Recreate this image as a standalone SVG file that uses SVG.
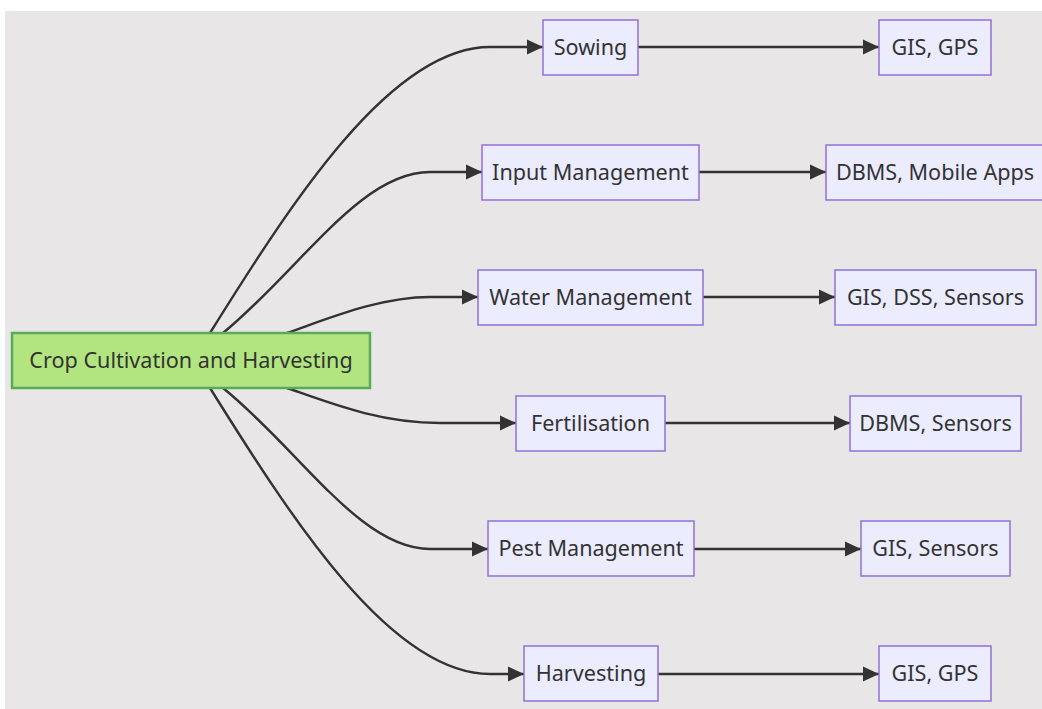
<svg xmlns="http://www.w3.org/2000/svg" width="1042" height="709" viewBox="0 0 1042 709">
  <defs>
    <marker id="arrow" viewBox="0 0 16 16" refX="16" refY="8" markerWidth="16" markerHeight="16" markerUnits="userSpaceOnUse" orient="auto">
      <path d="M0,0.5 L16,8 L0,15.5 z" fill="#333333"/>
    </marker>
    <style>
      .node rect { fill: #ececff; stroke: #9370db; stroke-width: 1.5; }
      .root rect { fill: #b2e57f; stroke: #5aaa57; stroke-width: 2.5; }
      .node text, .root text { font-family: "Trebuchet MS", "Noto Sans", "DejaVu Sans", sans-serif; font-size: 21.6px; fill: #333333; text-anchor: middle; dominant-baseline: central; }
      .edges path { fill: none; stroke: #333333; stroke-width: 2.4; marker-end: url(#arrow); }
    </style>
  </defs>

  <!-- canvas -->
  <rect x="0" y="0" width="1042" height="709" fill="#ffffff"/>
  <rect x="5" y="11" width="1037" height="698" fill="#e8e6e6"/>

  <!-- connectors -->
  <g class="edges">
    <path d="M210,333 C290,205 390,47 490,47 L543,47"/>
    <path d="M223,333 C300,270 360,172 430,172 L482,172"/>
    <path d="M287,333 C330,318 380,297 430,297 L478,297"/>
    <path d="M287,388 C330,403 380,423 440,423 L516,423"/>
    <path d="M223,388 C300,450 360,549 430,549 L488,549"/>
    <path d="M210,388 C290,516 390,674 490,674 L524,674"/>

    <path d="M638,47 L879,47"/>
    <path d="M699,172 L826,172"/>
    <path d="M703,297 L835,297"/>
    <path d="M665,423 L850,423"/>
    <path d="M694,549 L861,549"/>
    <path d="M658,674 L879,674"/>
  </g>

  <!-- root -->
  <g id="crop-cultivation" class="root">
    <rect x="12" y="333" width="358" height="55"/>
    <text x="191" y="359">Crop Cultivation and Harvesting</text>
  </g>

  <!-- stages -->
  <g id="sowing" class="node">
    <rect x="543" y="20" width="95" height="55"/>
    <text x="590.5" y="46">Sowing</text>
  </g>
  <g id="input-management" class="node">
    <rect x="482" y="145" width="217" height="55"/>
    <text x="590.5" y="171">Input Management</text>
  </g>
  <g id="water-management" class="node">
    <rect x="478" y="270" width="225" height="55"/>
    <text x="590.5" y="296">Water Management</text>
  </g>
  <g id="fertilisation" class="node">
    <rect x="516" y="396" width="149" height="55"/>
    <text x="590.5" y="422">Fertilisation</text>
  </g>
  <g id="pest-management" class="node">
    <rect x="488" y="521" width="206" height="55"/>
    <text x="591" y="547">Pest Management</text>
  </g>
  <g id="harvesting" class="node">
    <rect x="524" y="646" width="134" height="55"/>
    <text x="591" y="672">Harvesting</text>
  </g>

  <!-- technologies -->
  <g id="tech-sowing" class="node">
    <rect x="879" y="20" width="112" height="55"/>
    <text x="935" y="46">GIS, GPS</text>
  </g>
  <g id="tech-input" class="node">
    <rect x="826" y="145" width="218" height="55"/>
    <text x="935" y="171">DBMS, Mobile Apps</text>
  </g>
  <g id="tech-water" class="node">
    <rect x="835" y="270" width="201" height="55"/>
    <text x="935.5" y="296">GIS, DSS, Sensors</text>
  </g>
  <g id="tech-fertilisation" class="node">
    <rect x="850" y="396" width="171" height="55"/>
    <text x="935.5" y="422">DBMS, Sensors</text>
  </g>
  <g id="tech-pest" class="node">
    <rect x="861" y="521" width="149" height="55"/>
    <text x="935.5" y="547">GIS, Sensors</text>
  </g>
  <g id="tech-harvesting" class="node">
    <rect x="879" y="646" width="112" height="55"/>
    <text x="935" y="672">GIS, GPS</text>
  </g>
</svg>
